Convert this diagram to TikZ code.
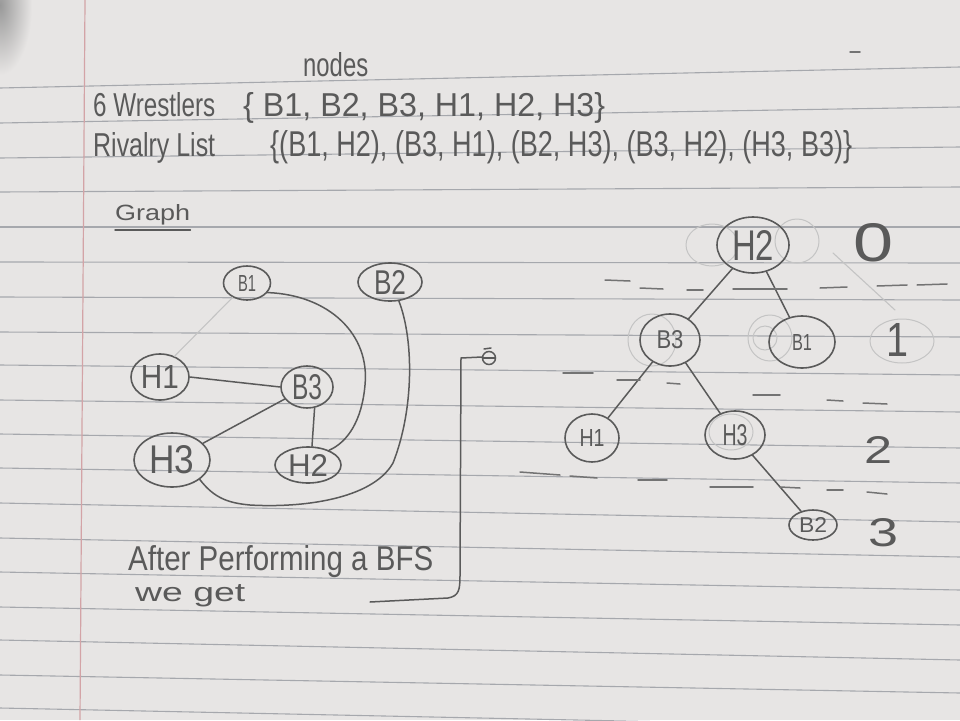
\documentclass[tikz,border=0pt]{standalone}
\usepackage{fontspec}
\setmainfont{Liberation Sans}
\usetikzlibrary{shapes.geometric}
\definecolor{paper}{HTML}{E7E5E4}
\definecolor{rulecol}{HTML}{A6A8AD}
\definecolor{margincol}{HTML}{D3A3A6}
\definecolor{pencil}{HTML}{5A5A5A}
\definecolor{faintcol}{HTML}{C4C4C4}
\newcommand{\hw}[3]{\resizebox{#1pt}{#2pt}{#3}}
\begin{document}
\begin{tikzpicture}[x=1pt,y=-1pt,
  gnode/.style={ellipse,draw=pencil,line width=1.6pt,inner sep=0pt,text=pencil},
  edge/.style={draw=pencil,line width=1.5pt,line cap=round},
  faintedge/.style={draw=faintcol,line width=1.1pt,line cap=round},
  dashmark/.style={draw=pencil!85,line width=1.5pt,line cap=round},
  hand/.style={inner sep=0pt,text=pencil,anchor=base west},
  lvl/.style={inner sep=0pt,text=pencil},
  ghost/.style={draw=faintcol,line width=1pt}]
% paper
\fill[paper] (0,0) rectangle (960,720);
\useasboundingbox (0,0) rectangle (960,720);
\shade[inner color=black!40, outer color=paper] (0,5) ellipse (32 and 70);
% ruled lines
\foreach \a/\b in {88/67,123/107,158/147,192/187,227/227,262/263,297/300,332/337,365/375,400/412,434/448,468/483,503/522,538/557,572/590,607/625,640/660,675/693,708/728}
  \draw[rulecol,line width=1.1pt] (0,\a) -- (960,\b);
\draw[margincol,line width=1.2pt] (85,0) -- (80,720);
% header texts
\draw[dashmark] (850,52) -- (860,52);
\node[hand] (tNodes) at (303,76) {\hw{65}{24}{nodes}};
\node[hand] (tWr) at (93,116) {\hw{122}{24}{6 Wrestlers}};
\node[hand] (tSet) at (243,116) {\hw{362}{24}{\{ B1, B2, B3, H1, H2, H3\}}};
\node[hand] (tRiv) at (93,156) {\hw{122}{24}{Rivalry List}};
\node[hand] (tList) at (270,156) {\hw{582}{26}{\{(B1, H2), (B3, H1), (B2, H3), (B3, H2), (H3, B3)\}}};
\node[hand] (tGraph) at (115,220) {\hw{75}{16}{Graph}};
\draw[edge] ([yshift=-5pt]tGraph.south west) -- ([yshift=-5pt]tGraph.south east);
% left graph
\node[gnode,minimum width=47,minimum height=34] (LB1) at (247,283) {\hw{18}{16}{B1}};
\node[gnode,minimum width=64,minimum height=38] (LB2) at (390,282) {\hw{32}{24}{B2}};
\node[gnode,minimum width=58,minimum height=46] (LH1) at (160,377) {\hw{38}{23}{H1}};
\node[gnode,minimum width=52,minimum height=42] (LB3) at (307,387) {\hw{30}{25}{B3}};
\node[gnode,minimum width=76,minimum height=54] (LH3) at (172,460) {\hw{45}{28}{H3}};
\node[gnode,minimum width=66,minimum height=36] (LH2) at (308,465) {\hw{40}{22}{H2}};
\draw[faintedge] (LB1.-135) -- (LH1.55);
\draw[edge] (LH1.east) -- (LB3.west);
\draw[edge] (LB3) -- (LH3);
\draw[edge] (LB3.-70) -- (LH2.78);
\draw[edge] (LB1.-25) .. controls (330,295) and (370,335) .. (365,385)
   .. controls (362,420) and (348,442) .. (LH2.35);
\draw[edge] (LB2.-65) .. controls (414,340) and (414,410) .. (393,463)
   .. controls (372,500) and (300,508) .. (250,505)
   .. controls (228,503) and (214,498) .. (LH3.-35);
% bracket to the tree
\node[hand] (tAfter) at (128,570) {\hw{305}{25}{After Performing a BFS}};
\node[hand] (tWe) at (135,601) {\hw{110}{17}{we get}};
\coordinate (brS) at (370,602);
\coordinate (brE) at (482,357);
\coordinate (brC) at (489,358);
\draw[edge] (brS) -- (448,598) .. controls (459,596) and (460,590) .. (460,575) -- (461,358) -- (brE);
\draw[edge] (brC) circle [radius=6.5pt];
\draw[edge] ([xshift=-6pt]brC) -- ([xshift=6pt]brC);
\draw[edge] (484,349) -- (491,348);
% tree ghosts
\draw[ghost] (712,245) ellipse (26 and 21);
\draw[ghost] (797,241) ellipse (22 and 22);
\draw[ghost] (652,340) ellipse (24 and 26);
\draw[ghost] (770,338) ellipse (22 and 23);
\draw[ghost] (765,338) ellipse (12 and 12);
\draw[ghost] (902,341) ellipse (32 and 22);
\draw[ghost] (731,432) ellipse (22 and 18);
\draw[faintedge] (833,253) -- (895,310);
% tree
\node[gnode,minimum width=72,minimum height=56] (TH2) at (753,245) {\hw{42}{30}{H2}};
\node[gnode,minimum width=60,minimum height=52] (TB3) at (670,340) {\hw{27}{18}{B3}};
\node[gnode,minimum width=66,minimum height=52] (TB1) at (802,342) {\hw{20}{16}{B1}};
\node[gnode,minimum width=54,minimum height=48] (TH1) at (592,438) {\hw{25}{17}{H1}};
\node[gnode,minimum width=60,minimum height=48] (TH3) at (735,435) {\hw{25}{21}{H3}};
\node[gnode,minimum width=48,minimum height=30] (TB2) at (813,525) {\hw{28}{15}{B2}};
\draw[edge] (TH2) -- (TB3);
\draw[edge] (TH2) -- (TB1);
\draw[edge] (TB3) -- (TH1);
\draw[edge] (TB3) -- (TH3);
\draw[edge] (TH3) -- (TB2);
% level numbers
\node[lvl] (L0) at (873,243) {\hw{40}{38}{0}};
\node[lvl] (L1) at (897,340) {\hw{22}{33}{1}};
\node[lvl] (L2) at (878,450) {\hw{28}{27}{2}};
\node[lvl] (L3) at (883,533) {\hw{30}{28}{3}};
% level separators
\foreach \xa/\ya/\xb/\yb in {605/280/630/281,640/288/663/289,687/290/703/290,733/289/787/289,820/288/847/287,877/286/907/285,917/285/947/284,
  563/373/593/373,617/380/640/380,667/383/680/384,753/395/780/395,827/400/843/401,863/403/887/404,
  520/472/560/475,570/476/597/478,638/480/667/480,710/487/753/487,780/487/800/488,827/490/843/490,867/492/887/494}
  \draw[dashmark] (\xa,\ya) -- (\xb,\yb);
\end{tikzpicture}
\end{document}
